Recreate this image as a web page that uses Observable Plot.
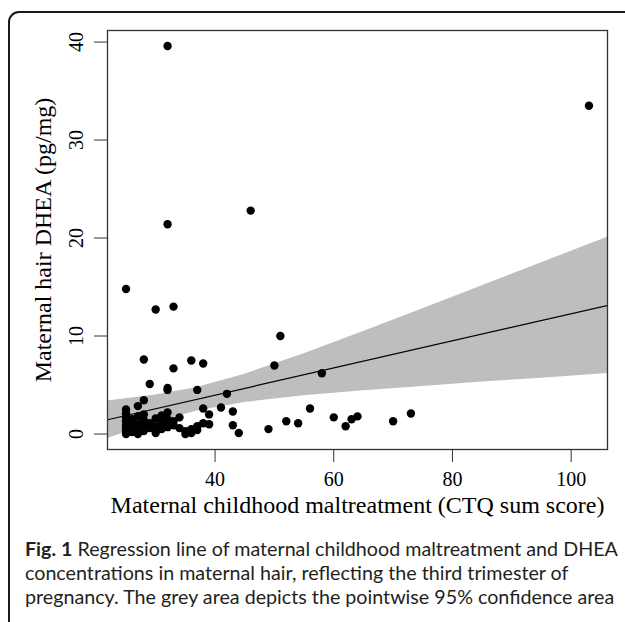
<!DOCTYPE html>
<html><head><meta charset="utf-8">
<script src="https://cdn.jsdelivr.net/npm/d3@7"></script>
<script src="https://cdn.jsdelivr.net/npm/@observablehq/plot@0.6"></script>
<style>
html,body{margin:0;padding:0;background:#fff;width:625px;height:622px;overflow:hidden;}
#wrap{position:relative;width:625px;height:622px;}
#border{position:absolute;left:8px;top:11px;width:660px;height:660px;border:2px solid #1a1a1a;border-top-left-radius:11px;box-sizing:border-box;}
#chart{position:absolute;left:0;top:0;}
#caption{position:absolute;left:25px;top:537px;font-family:Lato,"Open Sans",sans-serif;font-size:19px;line-height:24px;color:#231f20;white-space:nowrap;}
#caption div{white-space:nowrap;}
</style></head>
<body><div id="wrap"><div id="border"></div><div id="chart"></div>
<div id="caption"><div id="l1"><b>Fig. 1</b> Regression line of maternal childhood maltreatment and DHEA</div><div>concentrations in maternal hair, reflecting the third trimester of</div><div>pregnancy. The grey area depicts the pointwise 95% confidence area</div></div></div>
<script>
// CTQ sum score (x) and hair DHEA pg/mg (y)
const ctq  = [25,25,25,25,25,25,25,25,25,
  26,26,26,26,
  27,27,27,27,27,
  28,28,28,28,28,28,
  29,29,29,
  30,30,30,30,
  31,31,31,
  32,32,32,32,32,32,32,32,
  33,33,33,33,
  34,34,
  35,35,
  36,36,36,
  37,37,37,
  38,38,38,
  39,39,
  41,42,43,43,44,46,49,50,51,52,54,56,58,60,62,63,64,70,73,103];
const dhea = [0.0,0.3,0.6,0.9,1.3,1.7,2.1,2.5,14.8,
  0.2,0.7,1.1,1.5,
  0.0,0.5,1.0,1.8,2.85,
  0.3,0.9,1.4,2.0,3.45,7.6,
  0.6,1.1,5.1,
  0.1,0.8,1.6,12.7,
  0.5,1.2,1.9,
  0.7,1.0,1.5,2.2,4.5,4.7,21.4,39.6,
  0.9,1.3,6.7,13.0,
  0.6,1.7,
  0.0,0.3,
  0.1,0.5,7.5,
  0.4,0.8,4.5,
  1.1,2.6,7.2,
  1.0,2.0,
  2.7,4.1,2.3,0.9,0.1,22.8,0.5,7.0,10.0,1.3,1.1,2.6,6.2,1.7,0.8,1.5,1.8,1.3,2.1,33.5];

// regression line end points and 95% band edges
const lineX = [21.88, 106.12];
const lineY = [1.46, 13.12];
const bandX  = [21.88, 30, 37, 45, 55, 65, 75, 85, 95, 106.12];
const bandLo = [-0.46, 1.20, 2.36, 3.22, 3.90, 4.41, 4.86, 5.30, 5.70, 6.17];
const bandHi = [3.38, 3.98, 4.76, 6.10, 8.20, 10.47, 12.78, 15.12, 17.48, 20.07];

const xTicks = [40, 60, 80, 100];
const yTicks = [0, 10, 20, 30, 40];
const xLabel = "Maternal childhood maltreatment (CTQ sum score)";
const yLabel = "Maternal hair DHEA (pg/mg)";

const points = ctq.map((x, i) => ({x, y: dhea[i]}));
const band = bandX.map((x, i) => ({x, lo: bandLo[i], hi: bandHi[i]}));
const line = lineX.map((x, i) => ({x, y: lineY[i]}));

const chart = Plot.plot({
  width: 625, height: 522,
  marginLeft: 107, marginRight: 18, marginTop: 30, marginBottom: 73,
  x: {domain: [21.88, 106.12]},
  y: {domain: [-1.58, 41.18]},
  style: {fontFamily: "'Liberation Serif', serif", fontSize: "20px", color: "#000", background: "transparent"},
  marks: [
    Plot.areaY(band, {x: "x", y1: "lo", y2: "hi", fill: "#bebebe", clip: true}),
    Plot.line(line, {x: "x", y: "y", stroke: "#000", strokeWidth: 1.2, clip: true}),
    Plot.dot(points, {x: "x", y: "y", r: 4.2, fill: "#000", stroke: "none"}),
    Plot.frame({stroke: "#333", strokeWidth: 1.3}),
    Plot.axisX({ticks: xTicks, tickSize: 13, tickPadding: 9, label: null, fontSize: 20, stroke: "#333", fill: "#000"}),
    Plot.axisY({ticks: yTicks, tickSize: 13, tickPadding: 12, tickRotate: -90, label: null, fontSize: 20, stroke: "#333", fill: "#000"}),
    Plot.text([xLabel], {frameAnchor: "bottom", dy: 63, fontSize: 24, text: d => d, fill: "#000"}),
    Plot.text([yLabel], {frameAnchor: "left", textAnchor: "middle", dx: -64, rotate: -90, fontSize: 24, text: d => d, fill: "#000"})
  ]
});
document.getElementById("chart").appendChild(chart);
// fit the caption's first line to the reference width
const l1 = document.getElementById("l1");
const cap = document.getElementById("caption");
const w = l1.getBoundingClientRect().width;
cap.style.fontSize = (19 * 593 / w).toFixed(2) + "px";
</script>
</body></html>
